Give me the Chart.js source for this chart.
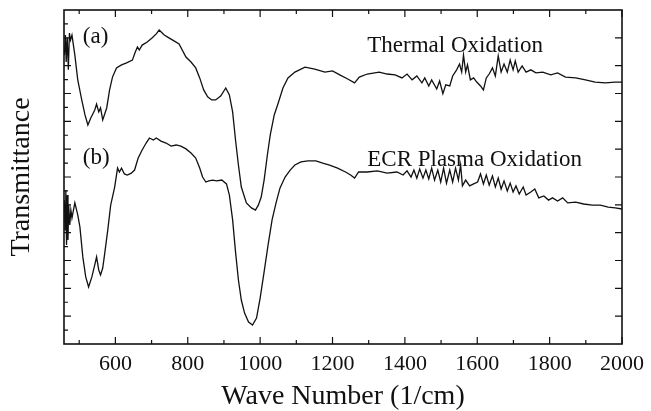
<!DOCTYPE html>
<html lang="en">
<head>
    <meta charset="UTF-8">
    <title>IR Transmittance Spectra</title>
    <script src="https://cdn.jsdelivr.net/npm/chart.js"></script>
    <style>
        html, body { margin: 0; padding: 0; background: #fff; }
        #wrap { width: 651px; height: 411px; }
    </style>
</head>
<body>
    <div id="wrap"><canvas id="irChart" width="651" height="411"></canvas></div>

    <script>
        // Wave numbers (1/cm) and transmittance (arb. units)
        const waveA = [459, 462, 464, 467, 470, 473, 476, 480, 488, 496, 507, 516, 524, 532, 543, 548, 554, 559, 565, 576,
            584, 592, 603, 617, 631, 647, 655, 661, 666, 674, 688, 702, 713, 721, 735, 748, 762, 776, 795, 809,
            822, 833, 844, 855, 866, 877, 891, 905, 915, 924, 932, 940, 948, 962, 976, 987, 995, 1003, 1011, 1020,
            1028, 1039, 1050, 1063, 1077, 1096, 1124, 1151, 1179, 1200, 1220, 1242, 1261, 1274, 1296, 1329, 1351, 1373, 1392, 1406,
            1420, 1433, 1447, 1455, 1466, 1474, 1488, 1496, 1505, 1513, 1524, 1532, 1543, 1551, 1557, 1562, 1568, 1573, 1581, 1590,
            1598, 1609, 1617, 1625, 1633, 1642, 1650, 1658, 1666, 1674, 1683, 1691, 1699, 1705, 1713, 1724, 1735, 1748, 1762, 1781,
            1803, 1822, 1844, 1872, 1899, 1926, 1954, 1981, 2000];
        const transA = [10.38, 11.10, 10.13, 11.00, 9.85, 11.17, 10.92, 11.10, 10.38, 9.49, 8.77, 8.23, 7.87, 8.12, 8.41, 8.62, 8.34, 8.48, 8.05, 8.48,
            9.13, 9.59, 9.92, 10.03, 10.10, 10.20, 10.49, 10.67, 10.56, 10.74, 10.85, 11.00, 11.14, 11.28, 11.10, 11.00, 10.89, 10.78, 10.31, 10.13,
            9.92, 9.56, 9.13, 8.88, 8.77, 8.77, 8.91, 9.20, 8.95, 8.34, 7.33, 6.43, 5.64, 5.07, 4.89, 4.81, 4.99, 5.28, 5.89, 6.79,
            7.51, 8.23, 8.66, 9.20, 9.56, 9.77, 9.95, 9.88, 9.77, 9.81, 9.67, 9.52, 9.38, 9.59, 9.70, 9.77, 9.70, 9.67, 9.56, 9.70,
            9.49, 9.63, 9.38, 9.56, 9.27, 9.49, 9.16, 9.45, 8.99, 9.31, 9.27, 9.63, 9.85, 10.06, 9.77, 10.38, 9.77, 10.03, 9.49, 9.56,
            9.42, 9.27, 9.13, 9.56, 9.70, 9.92, 9.63, 10.35, 9.77, 10.06, 9.77, 10.20, 9.85, 10.17, 9.77, 9.99, 9.77, 9.85, 9.74, 9.77,
            9.67, 9.74, 9.59, 9.56, 9.49, 9.41, 9.38, 9.41, 9.41];

        const waveB = [459, 461, 463, 465, 467, 469, 471, 474, 477, 480, 488, 496, 502, 510, 518, 526, 535, 543, 548, 554,
            559, 565, 570, 579, 587, 598, 606, 611, 617, 625, 633, 644, 653, 663, 674, 685, 694, 705, 713, 726,
            740, 754, 768, 781, 795, 809, 822, 833, 841, 850, 858, 869, 880, 894, 907, 915, 924, 932, 940, 948,
            957, 968, 979, 990, 1000, 1011, 1022, 1033, 1044, 1055, 1069, 1083, 1096, 1113, 1132, 1154, 1173, 1192, 1214, 1236,
            1250, 1261, 1272, 1296, 1324, 1351, 1378, 1395, 1406, 1417, 1425, 1433, 1441, 1450, 1458, 1466, 1474, 1482, 1491, 1499,
            1507, 1515, 1524, 1532, 1540, 1548, 1554, 1559, 1568, 1579, 1590, 1601, 1609, 1617, 1625, 1633, 1642, 1650, 1658, 1666,
            1674, 1683, 1691, 1699, 1707, 1716, 1727, 1735, 1748, 1759, 1770, 1784, 1797, 1808, 1822, 1836, 1850, 1872, 1894, 1918,
            1940, 1962, 1981, 2000];
        const transB = [5.17, 4.10, 5.53, 3.56, 5.35, 3.74, 4.99, 4.28, 4.81, 4.53, 5.07, 4.64, 4.20, 3.13, 2.41, 2.05, 2.41, 2.84, 3.13, 2.66,
            2.48, 2.73, 3.20, 4.10, 4.99, 5.64, 6.32, 6.18, 6.32, 6.11, 6.07, 6.14, 6.25, 6.68, 6.97, 7.22, 7.40, 7.33, 7.40, 7.29,
            7.22, 7.11, 7.15, 7.11, 7.01, 6.86, 6.68, 6.32, 6.00, 5.82, 5.86, 5.89, 5.86, 5.89, 5.75, 5.35, 4.46, 3.31, 2.30, 1.58,
            1.11, 0.79, 0.68, 0.93, 1.65, 2.59, 3.56, 4.46, 5.07, 5.61, 6.00, 6.25, 6.43, 6.54, 6.58, 6.58, 6.50, 6.43, 6.32, 6.18,
            6.07, 5.96, 6.18, 6.18, 6.22, 6.14, 6.18, 6.07, 6.22, 6.00, 6.25, 5.96, 6.29, 5.96, 6.25, 5.93, 6.32, 5.89, 6.25, 5.82,
            6.32, 5.78, 6.25, 5.82, 6.32, 5.89, 6.43, 5.68, 5.89, 5.68, 5.75, 5.82, 6.11, 5.75, 6.07, 5.71, 6.04, 5.64, 5.96, 5.57,
            5.86, 5.50, 5.78, 5.46, 5.68, 5.39, 5.64, 5.35, 5.46, 5.57, 5.25, 5.32, 5.17, 5.25, 5.14, 5.25, 5.07, 5.10, 5.03, 4.99,
            4.99, 4.92, 4.89, 4.85];

        // Axis ticks
        const xLabelTicks = [600, 800, 1000, 1200, 1400, 1600, 1800, 2000];
        const xMinorTicks = [500, 700, 900, 1100, 1300, 1500, 1700, 1900];
        const yMajorTicks = [1, 2, 3, 4, 5, 6, 7, 8, 9, 10, 11];
        const yMinorTicks = [0.5, 1.5, 2.5, 3.5, 4.5, 5.5, 6.5, 7.5, 8.5, 9.5, 10.5, 11.5];

        // In-plot labels: [text, wave number at left edge, transmittance at middle]
        const curveLabels = [
            ['(a)', 510, 11.03],
            ['(b)', 510, 6.68],
            ['Thermal Oxidation', 1296, 10.71],
            ['ECR Plasma Oxidation', 1296, 6.61]
        ];

        const serif = '"Liberation Serif", "DejaVu Serif", serif';
        const ink = '#111';

        // Box frame with inward ticks and text labels
        const frameTicks = {
            id: 'frameTicks',
            afterDraw(chart) {
                const { ctx, chartArea: a, scales: { x, y } } = chart;
                ctx.save();
                ctx.strokeStyle = ink;
                ctx.lineWidth = 1.6;
                ctx.strokeRect(a.left, a.top, a.right - a.left, a.bottom - a.top);

                ctx.lineWidth = 1.2;
                ctx.beginPath();
                const xTick = (v, len) => {
                    const px = x.getPixelForValue(v);
                    ctx.moveTo(px, a.bottom); ctx.lineTo(px, a.bottom - len);
                    ctx.moveTo(px, a.top); ctx.lineTo(px, a.top + len);
                };
                xLabelTicks.forEach(v => xTick(v, 7));
                xMinorTicks.forEach(v => xTick(v, 4));
                yMajorTicks.forEach(v => {
                    const py = y.getPixelForValue(v);
                    ctx.moveTo(a.left, py); ctx.lineTo(a.left + 7, py);
                    ctx.moveTo(a.right, py); ctx.lineTo(a.right - 7, py);
                });
                yMinorTicks.forEach(v => {
                    const py = y.getPixelForValue(v);
                    ctx.moveTo(a.left, py); ctx.lineTo(a.left + 4, py);
                });
                ctx.stroke();

                ctx.fillStyle = ink;
                ctx.font = '23px ' + serif;
                ctx.textBaseline = 'middle';
                ctx.textAlign = 'left';
                curveLabels.forEach(([t, wx, ty]) => {
                    ctx.fillText(t, x.getPixelForValue(wx), y.getPixelForValue(ty));
                });
                ctx.restore();
            }
        };

        const lineStyle = {
            borderColor: ink,
            borderWidth: 1.3,
            pointRadius: 0,
            tension: 0,
            fill: false
        };

        new Chart(document.getElementById('irChart').getContext('2d'), {
            type: 'line',
            data: {
                datasets: [
                    { label: 'Thermal Oxidation', data: waveA.map((w, i) => ({ x: w, y: transA[i] })), ...lineStyle },
                    { label: 'ECR Plasma Oxidation', data: waveB.map((w, i) => ({ x: w, y: transB[i] })), ...lineStyle }
                ]
            },
            options: {
                responsive: false,
                animation: false,
                layout: { padding: { top: 10, right: 24, left: 0, bottom: 0 } },
                plugins: {
                    legend: { display: false },
                    tooltip: { enabled: false }
                },
                scales: {
                    x: {
                        type: 'linear',
                        min: 458,
                        max: 2000,
                        grid: { display: false, drawTicks: false },
                        border: { display: false },
                        afterFit: s => { s.height = 67; },
                        afterBuildTicks: s => { s.ticks = xLabelTicks.map(v => ({ value: v })); },
                        ticks: {
                            autoSkip: false,
                            maxRotation: 0,
                            padding: 7,
                            color: ink,
                            font: { family: serif, size: 22 },
                            callback: v => String(v)
                        },
                        title: {
                            display: true,
                            text: 'Wave Number (1/cm)',
                            color: ink,
                            padding: { top: 0, bottom: 0 },
                            font: { family: serif, size: 28, lineHeight: 1 }
                        }
                    },
                    y: {
                        min: 0,
                        max: 12,
                        grid: { display: false, drawTicks: false },
                        border: { display: false },
                        ticks: { display: false },
                        afterFit: s => { s.width = 64; },
                        title: {
                            display: true,
                            text: 'Transmittance',
                            color: ink,
                            padding: { top: 8, bottom: 0 },
                            font: { family: serif, size: 28, lineHeight: 1 }
                        }
                    }
                }
            },
            plugins: [frameTicks]
        });
    </script>
</body>
</html>
